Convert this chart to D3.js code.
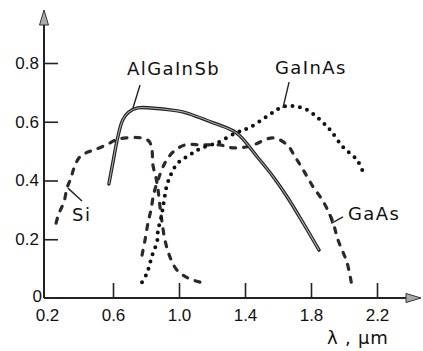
<!DOCTYPE html>
<html>
<head>
<meta charset="utf-8">
<script src="https://cdn.jsdelivr.net/npm/d3@7"></script>
<style>
  html, body { margin: 0; padding: 0; background: #fff; }
  svg { display: block; font-family: "DejaVu Sans", sans-serif; }
  .axis text { font-size: 17px; fill: #111; }
  .axis line { stroke: #222; stroke-width: 1.6; }
  .label { font-size: 18px; fill: #111; letter-spacing: 1.4px; }
  .leader { fill: none; stroke: #222; stroke-width: 1.4; }
</style>
</head>
<body>
<svg id="chart" width="423" height="351"></svg>
<script>
// wavelength (um) and relative response
const siX = [0.255, 0.273, 0.303, 0.321, 0.345, 0.364, 0.394, 0.436, 0.485, 0.558, 0.618, 0.679, 0.770, 0.818, 0.836, 0.842, 0.861, 0.873, 0.885, 0.897, 0.915, 0.945, 0.988, 1.055, 1.127];
const siY = [0.255, 0.289, 0.327, 0.374, 0.408, 0.443, 0.477, 0.494, 0.504, 0.521, 0.538, 0.545, 0.545, 0.534, 0.504, 0.453, 0.408, 0.368, 0.310, 0.259, 0.197, 0.140, 0.095, 0.068, 0.054];

const algaX = [0.575, 0.599, 0.629, 0.659, 0.695, 0.750, 0.828, 0.991, 1.028, 1.209, 1.348, 1.475, 1.572, 1.656, 1.753, 1.849];
const algaY = [0.388, 0.460, 0.548, 0.606, 0.633, 0.647, 0.647, 0.637, 0.633, 0.596, 0.562, 0.480, 0.412, 0.344, 0.255, 0.163];

const gaasX = [0.776, 0.794, 0.812, 0.830, 0.848, 0.873, 0.915, 0.964, 1.036, 1.139, 1.248, 1.327, 1.430, 1.570, 1.656, 1.704, 1.753, 1.813, 1.868, 1.928, 1.964, 2.019, 2.049];
const gaasY = [0.146, 0.197, 0.255, 0.300, 0.357, 0.402, 0.460, 0.497, 0.521, 0.521, 0.521, 0.511, 0.517, 0.545, 0.521, 0.480, 0.436, 0.378, 0.334, 0.266, 0.197, 0.119, 0.037];

const gainasX = [0.776, 0.806, 0.824, 0.842, 0.867, 0.873, 0.891, 0.903, 0.915, 0.927, 0.945, 0.964, 0.994, 1.036, 1.085, 1.139, 1.230, 1.345, 1.433, 1.572, 1.626, 1.686, 1.777, 1.856, 1.916, 1.994, 2.079, 2.115];
const gainasY = [0.054, 0.085, 0.119, 0.153, 0.191, 0.231, 0.272, 0.310, 0.351, 0.385, 0.412, 0.436, 0.460, 0.477, 0.494, 0.511, 0.528, 0.562, 0.582, 0.633, 0.650, 0.654, 0.640, 0.606, 0.572, 0.514, 0.470, 0.429];

const xTicks = [0.2, 0.6, 1.0, 1.4, 1.8, 2.2];
const yTicks = [0, 0.2, 0.4, 0.6, 0.8];

// curve labels with their leader lines, in data units
const labelNames = ['AlGaInSb', 'GaInAs', 'GaAs', 'Si'];
const labelAt = [[0.685, 0.759], [1.582, 0.762], [2.024, 0.266], [0.352, 0.262]];
const leaders = [
  [[0.764, 0.725], [0.721, 0.647]],
  [[1.667, 0.735], [1.630, 0.647]],
  [[1.909, 0.286], [1.927, 0.255], [1.994, 0.276]],
  [[0.412, 0.330], [0.327, 0.374]]
];

const svg = d3.select('#chart');

const x = d3.scaleLinear().domain([0.2, 2.2]).range([47, 377]);
const y = d3.scaleLinear().domain([0, 0.8]).range([298, 63]);
const axisX = 44, axisY = y(0);

// x axis: ticks point up, no tick at the origin
const gx = svg.append('g').attr('class', 'axis')
  .attr('transform', `translate(0,${axisY})`)
  .call(d3.axisBottom(x).tickValues(xTicks).tickFormat(d3.format('.1f'))
    .tickSize(-15).tickPadding(11));
gx.select('.domain').remove();
gx.selectAll('.tick').filter(d => d === 0.2).select('line').remove();

// y axis: ticks point right
const gy = svg.append('g').attr('class', 'axis')
  .attr('transform', `translate(${axisX},0)`)
  .call(d3.axisLeft(y).tickValues(yTicks).tickFormat(d => d === 0 ? '0' : d3.format('.1f')(d))
    .tickSize(-14).tickPadding(5));
gy.select('.domain').remove();
gy.selectAll('.tick').filter(d => d === 0).select('line').remove();
gy.selectAll('.tick').filter(d => d === 0).select('text').attr('x', -2).attr('dy', '0.2em');

// axis lines with arrow heads
svg.append('line').attr('x1', axisX).attr('y1', axisY).attr('x2', axisX).attr('y2', 20)
  .attr('stroke', '#222').attr('stroke-width', 2);
svg.append('line').attr('x1', axisX).attr('y1', axisY).attr('x2', 412).attr('y2', axisY)
  .attr('stroke', '#222').attr('stroke-width', 2);
svg.append('path').attr('d', `M${axisX},10 L${axisX - 4.5},25 L${axisX + 4.5},25 Z`)
  .attr('fill', '#aaa').attr('stroke', '#333').attr('stroke-width', 1);
svg.append('path').attr('d', `M421,${axisY} L406,${axisY - 4.5} L406,${axisY + 4.5} Z`)
  .attr('fill', '#aaa').attr('stroke', '#333').attr('stroke-width', 1);

svg.append('text').attr('class', 'label')
  .attr('x', 327).attr('y', 344).style('letter-spacing', '0.8px')
  .text('λ , μm');

const line = d3.line()
  .x(d => x(d[0]))
  .y(d => y(d[1]))
  .curve(d3.curveCatmullRom.alpha(0.5));

const zip = (a, b) => a.map((v, i) => [v, b[i]]);

// Si, GaAs: dashed
[zip(siX, siY), zip(gaasX, gaasY)].forEach(pts => {
  svg.append('path').datum(pts).attr('d', line)
    .attr('fill', 'none').attr('stroke', '#2a2a2a').attr('stroke-width', 3.2)
    .attr('stroke-dasharray', '5 8').attr('stroke-linecap', 'round');
});

// GaInAs: dotted
svg.append('path').datum(zip(gainasX, gainasY)).attr('d', line)
  .attr('fill', 'none').attr('stroke', '#111').attr('stroke-width', 4)
  .attr('stroke-dasharray', '0 7.5').attr('stroke-linecap', 'round');

// AlGaInSb: solid double stroke
const alga = zip(algaX, algaY);
svg.append('path').datum(alga).attr('d', line)
  .attr('fill', 'none').attr('stroke', '#222').attr('stroke-width', 3.4).attr('stroke-linecap', 'round');
svg.append('path').datum(alga).attr('d', line)
  .attr('fill', 'none').attr('stroke', '#aaa').attr('stroke-width', 1.1);

// labels and leaders
const straight = d3.line().x(d => x(d[0])).y(d => y(d[1]));
leaders.forEach(pts => svg.append('path').attr('class', 'leader').attr('d', straight(pts)));
labelNames.forEach((name, i) => {
  svg.append('text').attr('class', 'label')
    .attr('x', x(labelAt[i][0])).attr('y', y(labelAt[i][1]))
    .text(name);
});
</script>
</body>
</html>
